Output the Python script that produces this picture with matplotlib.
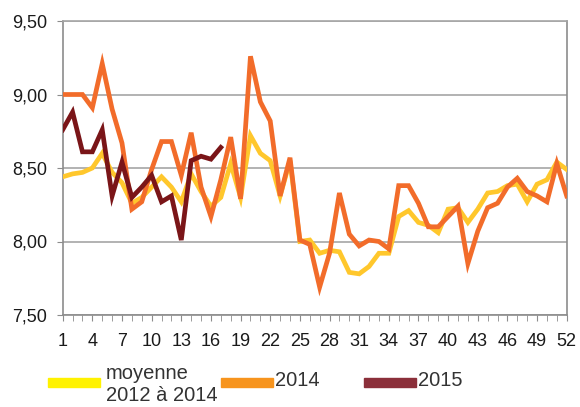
import matplotlib
matplotlib.use("Agg")
import matplotlib.pyplot as plt
from matplotlib.patches import Rectangle

weeks = list(range(1, 53))

moyenne = [8.44, 8.46, 8.47, 8.50, 8.60, 8.47, 8.40, 8.26, 8.30, 8.37,
           8.44, 8.37, 8.27, 8.46, 8.34, 8.24, 8.30, 8.53, 8.30, 8.72,
           8.60, 8.55, 8.31, 8.55, 8.00, 8.01, 7.92, 7.94, 7.93, 7.79,
           7.78, 7.83, 7.92, 7.92, 8.17, 8.21, 8.13, 8.11, 8.06, 8.22,
           8.23, 8.13, 8.22, 8.33, 8.34, 8.38, 8.39, 8.27, 8.39, 8.42,
           8.54, 8.49]

y2014 = [9.00, 9.00, 9.00, 8.91, 9.21, 8.90, 8.67, 8.22, 8.27, 8.49,
         8.68, 8.68, 8.45, 8.74, 8.37, 8.17, 8.42, 8.71, 8.29, 9.26,
         8.95, 8.82, 8.31, 8.57, 8.01, 7.98, 7.69, 7.92, 8.33, 8.05,
         7.97, 8.01, 8.00, 7.95, 8.38, 8.38, 8.26, 8.10, 8.10, 8.17,
         8.24, 7.85, 8.07, 8.23, 8.26, 8.37, 8.43, 8.34, 8.31, 8.27,
         8.53, 8.31]

y2015 = [8.76, 8.88, 8.61, 8.61, 8.76, 8.31, 8.54, 8.30, 8.37, 8.45,
         8.27, 8.31, 8.01, 8.55, 8.58, 8.56, 8.64]

xtick_labels = [str(w) for w in range(1, 53, 3)]
ytick_values = [7.5, 8.0, 8.5, 9.0, 9.5]
ytick_labels = ["7,50", "8,00", "8,50", "9,00", "9,50"]

legend_labels = ["moyenne\n2012 à 2014", "2014", "2015"]

c_yellow = "#FFC72C"
c_orange = "#F26C2A"
c_dark = "#7A1518"
leg_colors = ["#FFF200", "#F7941D", "#8B2F3A"]

fig = plt.figure(figsize=(5.8, 4.07), dpi=100)
ax = fig.add_axes([62.7/580, 1-315/407, (566.7-62.7)/580, (315-21)/407])

lw = 3.4
ax.plot(weeks, moyenne, color=c_yellow, lw=lw, solid_joinstyle="miter", zorder=3)
ax.plot(weeks, y2014, color=c_orange, lw=lw, solid_joinstyle="miter", zorder=4)
ax.plot(weeks[:len(y2015)], y2015, color=c_dark, lw=lw, solid_joinstyle="miter", zorder=5)

ax.set_xlim(1, 52)
ax.set_ylim(7.5, 9.5)
ax.set_yticks(ytick_values)
ax.set_yticklabels(ytick_labels)
ax.set_xticks(list(range(1, 53, 3)))
ax.set_xticklabels(xtick_labels)
ax.set_xticks(weeks, minor=True)

gray = "#8C8C8C"
for s in ax.spines.values():
    s.set_color(gray)
    s.set_linewidth(1.2)
ax.spines["top"].set_color("#A6A6A6")

ax.yaxis.grid(True, color="#A6A6A6", lw=1.2, zorder=1)
ax.set_axisbelow(True)

font = ["Liberation Sans", "DejaVu Sans"]
ax.tick_params(axis="y", length=4, color=gray, labelsize=13, pad=7)
ax.tick_params(axis="x", which="both", length=4, color=gray, labelsize=13, pad=9)
for lab in ax.get_xticklabels() + ax.get_yticklabels():
    lab.set_family(font)
    lab.set_color("#1a1a1a")

# legend (manual)
patch_specs = [(48, 100), (221, 273), (364, 416)]
text_x = [106, 275, 418]
text_y = [384.5, 381, 380]
for (x0, x1), col, tx, ty, lab in zip(patch_specs, leg_colors, text_x, text_y, legend_labels):
    fig.patches.append(Rectangle((x0/580, 1-387/407), (x1-x0)/580, 9/407,
                                 transform=fig.transFigure, color=col))
    fig.text(tx/580, 1-ty/407, lab, family=font, fontsize=14.5,
             color="#333333", ha="left", va="center", linespacing=1.15)

fig.savefig("out.png", dpi=100)
